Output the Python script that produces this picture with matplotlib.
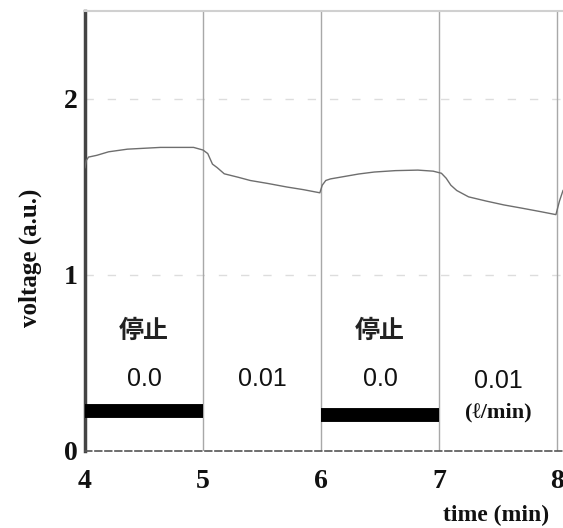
import numpy as np
import matplotlib
matplotlib.use("Agg")
import matplotlib.pyplot as plt

# voltage trace (time in min, voltage in a.u.)
time_min = [4.00, 4.01, 4.03, 4.10, 4.20, 4.36, 4.50, 4.64, 4.80, 4.92, 5.00, 5.04,
            5.08, 5.12, 5.18, 5.30, 5.40, 5.55, 5.71, 5.85, 5.99, 6.01, 6.04, 6.08,
            6.20, 6.32, 6.45, 6.63, 6.82, 6.95, 7.02, 7.06, 7.10, 7.15, 7.25, 7.40,
            7.55, 7.70, 7.86, 7.99, 8.02, 8.05]
voltage = [1.61, 1.65, 1.67, 1.68, 1.70, 1.715, 1.72, 1.725, 1.725, 1.725, 1.71, 1.69,
           1.63, 1.61, 1.575, 1.555, 1.537, 1.52, 1.50, 1.485, 1.467, 1.51, 1.537, 1.546,
           1.56, 1.574, 1.585, 1.593, 1.596, 1.59, 1.578, 1.55, 1.51, 1.48, 1.444, 1.42,
           1.398, 1.38, 1.36, 1.343, 1.42, 1.48]

# flow-stop periods (black bars)
bar_start = [4.0, 6.0]
bar_end = [5.0, 7.0]
bar_level = [0.225, 0.205]

# flow labels per segment
seg_center = [4.5, 5.5, 6.5, 7.5]
flow_labels = ["0.0", "0.01", "0.0", "0.01"]
flow_label_y = [0.41, 0.41, 0.41, 0.40]
stop_x = [4.5, 6.5]

serif = ["Liberation Serif", "DejaVu Serif"]

fig = plt.figure(figsize=(5.63, 5.28), dpi=100)
ax = fig.add_axes([85 / 563, 1 - 451 / 528, 1 - 85 / 563, 440 / 528])

ax.set_xlim(4, 8.05)
ax.set_ylim(0, 2.5)

# faint dashed horizontal grid
for yv in [1, 2]:
    ax.axhline(yv, color="#dddddd", lw=1.0, ls=(0, (6, 10)), zorder=0)
# vertical separators
for xv in [5, 6, 7, 8]:
    ax.axvline(xv, color="#a8a8a8", lw=1.0, zorder=1)

ax.plot(time_min, voltage, color="#6e6e6e", lw=1.0, zorder=3)

for s, e, lv in zip(bar_start, bar_end, bar_level):
    ax.plot([s, e], [lv, lv], color="black", lw=10, solid_capstyle="butt", zorder=4)

for x, lab, yy in zip(seg_center, flow_labels, flow_label_y):
    ax.text(x, yy, lab, ha="center", va="center", fontsize=18,
            family="Liberation Sans", color="#111111")
for x in stop_x:
    ax.text(x, 0.68, "停止", ha="center", va="center", fontsize=18,
            family=["Noto Sans CJK JP", "DejaVu Sans"], fontweight="bold", color="#222222")
ax.text(7.5, 0.22, "(ℓ/min)", ha="center", va="center", fontsize=16,
        family=serif, fontweight="bold", color="#111111")

# spines
ax.spines["right"].set_visible(False)
ax.spines["top"].set_color("#d0d0d0")
ax.spines["top"].set_linewidth(1.5)
ax.spines["left"].set_color("#444444")
ax.spines["left"].set_linewidth(2.5)
ax.spines["bottom"].set_color("#555555")
ax.spines["bottom"].set_linewidth(1.2)
ax.spines["bottom"].set_linestyle((0, (4, 2)))

ax.set_xticks([4, 5, 6, 7, 8])
ax.set_yticks([0, 1, 2])
ax.tick_params(length=0, labelsize=20)
ax.tick_params(axis="x", pad=13)
ax.tick_params(axis="y", pad=5)
for lab in ax.get_xticklabels() + ax.get_yticklabels():
    lab.set_family(serif)
    lab.set_fontweight("bold")
    lab.set_color("#111111")

ax.set_ylabel("voltage (a.u.)", fontsize=18, family=serif, fontweight="bold",
              color="#111111")
ax.yaxis.set_label_coords(-0.09, 0.44)
fig.text(549 / 563, 1 - 515 / 528, "time (min)", ha="right", va="center",
         fontsize=17, family=serif, fontweight="bold", color="#111111")

fig.savefig("out.png", dpi=100)
